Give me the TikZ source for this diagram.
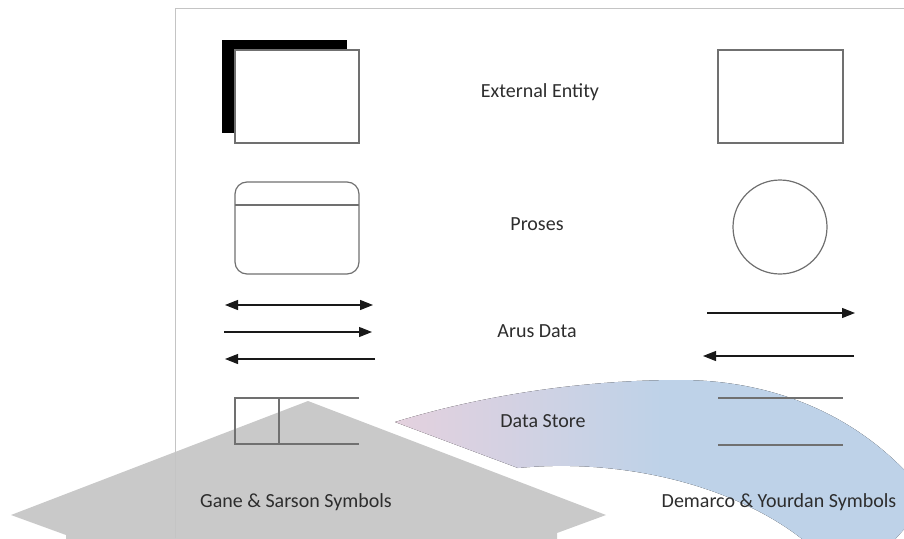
\documentclass[tikz,border=0pt]{standalone}
\usepackage{fontspec}
\setmainfont{Carlito}
\usepackage{xcolor}
\usetikzlibrary{arrows.meta,shapes,calc}

\definecolor{framegray}{RGB}{196,196,196}
\definecolor{symgray}{RGB}{112,112,112}
\definecolor{flowgray}{RGB}{25,25,25}
\definecolor{arrowgray}{RGB}{201,201,201}
\definecolor{arcpink}{RGB}{228,209,222}
\definecolor{arcblue}{RGB}{190,210,232}
\definecolor{labelgray}{RGB}{45,45,45}
\pgfdeclarehorizontalshading{arcfade}{100bp}{color(0bp)=(arcpink); color(25bp)=(arcpink); color(50bp)=(arcblue); color(100bp)=(arcblue)}

\begin{document}
\begin{tikzpicture}[x=1pt,y=-1pt,
    symbol/.style={symgray,line width=1.2pt},
    flow/.style={flowgray,line width=1.1pt,-{Triangle[length=13pt,width=10pt]}},
    label/.style={labelgray,font=\fontsize{20}{24}\selectfont}]
    \useasboundingbox (0,0) rectangle (904,538);

    % Curved band behind (pink to blue)
    \begin{scope}
    \clip (0,0) rectangle (904,538);
    \fill[shading=arcfade] (395,422) .. controls (480,396) and (580,380) .. (680,380)
        .. controls (780,380) and (870,420) .. (930,500)
        -- (850,590) .. controls (830,560) and (800,533) .. (760,512)
        .. controls (690,475) and (600,460) .. (518,468) -- cycle;
    % Big gray arrow head
    \fill[arrowgray] (308,401) -- (606,515) -- (557,533) -- (557,545)
        -- (66,545) -- (66,535) -- (11,515) -- cycle;
    \end{scope}

    % Frame
    \draw[framegray,line width=1pt] (175,538) -- (175,8) -- (904,8);

    % External entity
    \fill[black] (222,40) rectangle (347,133);
    \draw[symbol,fill=white] (235,50) rectangle (359,143);
    \draw[symbol] (718,50) rectangle (843,143);

    % Process
    \draw[symbol,rounded corners=12pt] (235,182) rectangle (359,274);
    \draw[symbol] (235,205) -- (359,205);
    \draw[symbol] (780,227) circle (47);

    % Data flow
    \draw[flow,{Triangle[length=13pt,width=10pt]}-{Triangle[length=13pt,width=10pt]}] (225,305) -- (373,305);
    \draw[flow] (224,332) -- (372,332);
    \draw[flow] (375,359) -- (225,359);
    \draw[flow] (707,313) -- (855,313);
    \draw[flow] (854,356) -- (703,356);

    % Data store
    \draw[symbol] (359,398) -- (235,398) -- (235,444) -- (359,444);
    \draw[symbol] (279,398) -- (279,444);
    \draw[symbol] (718,398) -- (843,398);
    \draw[symbol] (718,445) -- (843,445);

    % Labels
    \node[label] (entity) at (540,92) {External Entity};
    \node[label] (proses) at (537,224) {Proses};
    \node[label] (arus) at (537,331) {Arus Data};
    \node[label] (store) at (543,421) {Data Store};
    \node[label] (gane) at (296,502) {Gane \& Sarson Symbols};
    \node[label] (demarco) at (779,502) {Demarco \& Yourdan Symbols};
\end{tikzpicture}
\end{document}
